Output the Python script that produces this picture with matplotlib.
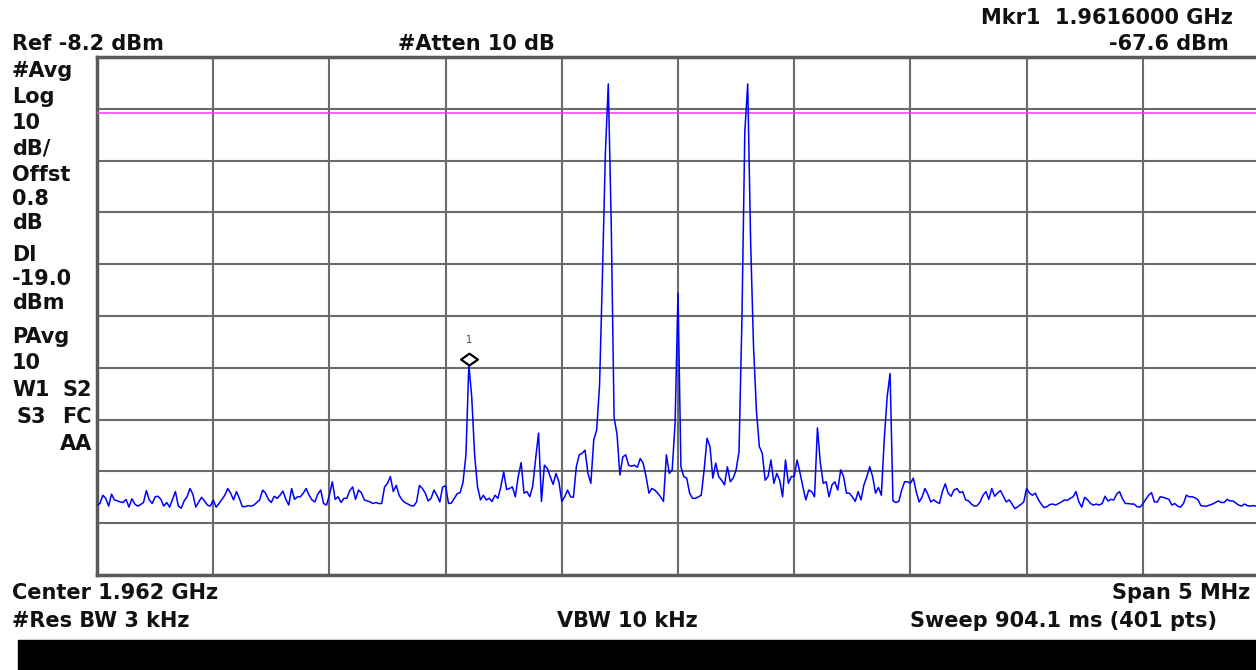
import numpy as np
import matplotlib
matplotlib.use("Agg")
import matplotlib.pyplot as plt
from matplotlib.path import Path
from matplotlib.patches import Rectangle
import matplotlib.transforms as mtransforms

# instrument settings
center_ghz = 1.962
span_mhz = 5.0
ref_dbm = -8.2
db_per_div = 10
display_line_dbm = -19.0
n_pts = 401
marker_idx = 128
marker_dbm = -67.6

# trace amplitude (dBm), 40 points per horizontal division
div1 = [-94.7, -94.4, -92.8, -93.4, -94.9, -92.6, -93.7, -93.9, -94.1, -94.2,
        -93.6, -95.1, -93.5, -94.5, -94.9, -94.6, -94.2, -91.9, -93.7, -94.4,
        -93.1, -93.0, -93.6, -94.9, -94.2, -95.1, -93.6, -92.1, -94.9, -95.3,
        -93.9, -93.1, -91.5, -92.6, -95.1, -94.1, -93.2, -93.9, -94.7, -94.9]
div2 = [-93.7, -95.1, -94.4, -93.6, -92.8, -91.5, -92.4, -93.7, -92.1, -93.4,
        -95.0, -95.0, -94.8, -94.9, -94.7, -94.2, -93.7, -91.8, -92.4, -93.6,
        -94.2, -93.0, -93.4, -92.8, -92.0, -93.6, -94.7, -91.5, -93.6, -93.1,
        -93.1, -92.4, -91.5, -92.8, -93.7, -94.1, -92.6, -91.8, -94.4, -94.7]
div3 = [-92.8, -90.2, -93.6, -93.1, -94.2, -93.4, -93.4, -91.9, -91.2, -93.6,
        -91.8, -92.3, -93.7, -93.9, -94.1, -94.4, -94.2, -94.4, -94.4, -91.2,
        -90.5, -89.2, -92.1, -90.9, -92.8, -93.7, -94.2, -94.5, -94.8, -94.9,
        -94.1, -90.9, -91.5, -92.4, -93.9, -93.4, -91.8, -92.8, -94.1, -91.2]
div4 = [-91.0, -94.4, -94.3, -93.4, -92.5, -92.3, -90.3, -85.0, -67.6, -73.8,
        -85.2, -91.2, -93.7, -92.8, -93.7, -93.4, -94.0, -92.8, -93.4, -91.2,
        -88.3, -91.7, -91.5, -91.2, -93.1, -89.2, -86.5, -92.4, -92.1, -93.1,
        -91.0, -85.7, -80.8, -94.0, -87.0, -87.6, -89.2, -90.7, -88.6, -90.2]
div5 = [-94.0, -93.1, -91.8, -93.1, -93.2, -87.3, -85.0, -84.7, -84.1, -88.6,
        -90.5, -82.1, -80.2, -71.5, -50.0, -26.8, -13.4, -40.0, -77.8, -81.0,
        -88.9, -85.4, -85.0, -87.0, -87.2, -87.0, -87.4, -85.7, -86.6, -89.2,
        -92.4, -91.5, -91.8, -92.4, -93.1, -94.0, -85.0, -88.6, -87.9, -78.9]
div6 = [-53.8, -87.3, -89.2, -89.5, -92.4, -93.4, -93.4, -93.1, -92.8, -87.9,
        -81.8, -83.4, -89.5, -86.6, -89.2, -89.9, -90.8, -87.3, -90.2, -89.5,
        -87.9, -84.4, -59.0, -22.6, -13.4, -43.9, -64.1, -76.5, -83.4, -84.7,
        -89.9, -89.2, -86.0, -90.5, -88.6, -89.9, -93.1, -86.0, -90.5, -89.2]
div7 = [-89.2, -86.0, -88.5, -91.2, -93.7, -91.8, -92.1, -93.1, -79.8, -86.6,
        -90.5, -90.2, -93.1, -90.8, -90.2, -91.8, -87.9, -89.2, -92.4, -92.4,
        -93.1, -94.0, -92.1, -93.7, -90.8, -89.2, -87.3, -89.2, -92.4, -91.3,
        -92.8, -82.0, -73.8, -69.3, -93.9, -94.2, -94.0, -91.8, -90.2, -90.2]
div8 = [-90.5, -89.5, -92.1, -94.1, -93.2, -91.5, -92.6, -94.1, -93.7, -94.1,
        -94.4, -92.1, -90.6, -92.4, -93.0, -91.8, -91.5, -92.3, -92.1, -93.7,
        -93.9, -94.5, -94.9, -94.8, -94.1, -92.8, -92.1, -93.6, -91.5, -93.0,
        -92.4, -91.9, -93.0, -94.1, -93.7, -94.5, -95.4, -95.0, -94.6, -94.1]
div9 = [-91.5, -92.4, -92.8, -92.4, -93.6, -94.5, -95.2, -95.0, -94.6, -94.5,
        -94.7, -94.4, -94.1, -93.7, -93.8, -93.4, -93.1, -92.1, -94.1, -95.1,
        -93.2, -93.7, -94.4, -94.7, -94.5, -94.7, -94.4, -93.0, -93.9, -93.6,
        -93.7, -92.6, -92.1, -93.5, -94.4, -94.4, -94.5, -94.5, -95.0, -95.1]
div10 = [-94.5, -93.6, -92.8, -92.3, -94.1, -94.1, -93.1, -93.2, -93.4, -93.6,
         -94.7, -94.4, -94.9, -95.1, -94.4, -92.8, -93.1, -93.1, -93.3, -93.7,
         -94.8, -94.9, -94.9, -94.7, -94.5, -94.2, -93.9, -94.2, -94.2, -93.6,
         -93.9, -93.9, -94.3, -94.7, -94.9, -94.5, -94.8, -94.9, -94.8, -94.9,
         -94.7]

trace = np.array(div1 + div2 + div3 + div4 + div5 + div6 + div7 + div8 + div9 + div10)

f_start = center_ghz - span_mhz / 2000
f_stop = center_ghz + span_mhz / 2000
freq = np.linspace(f_start, f_stop, n_pts)

W, H = 1256, 670
fig = plt.figure(figsize=(W / 100, H / 100), dpi=100)
fig.patch.set_facecolor("white")

# graticule area in pixels
x0, x1, y0, y1 = 97, 1259, 57, 575
ax = fig.add_axes([x0 / W, 1 - y1 / H, (x1 - x0) / W, (y1 - y0) / H])
ax.set_xlim(f_start, f_stop)
ax.set_ylim(ref_dbm - 10 * db_per_div, ref_dbm)
ax.set_xticks(np.linspace(f_start, f_stop, 11))
ax.set_yticks(np.linspace(ref_dbm - 10 * db_per_div, ref_dbm, 11))
ax.tick_params(length=0, labelbottom=False, labelleft=False)
ax.grid(True, color="#6b6b6b", lw=1.5)
ax.set_axisbelow(True)
for s in ax.spines.values():
    s.set_color("#5a5a5a")
    s.set_linewidth(2.5)

ax.axhline(display_line_dbm, color="#ff33ff", lw=1.1, zorder=3)
ax.plot(freq, trace, color="#0000ff", lw=1.1, zorder=4)

# marker diamond sits on top of the marked point
diamond = Path([(0, 0), (1, 0.7), (0, 1.4), (-1, 0.7), (0, 0)],
               [Path.MOVETO, Path.LINETO, Path.LINETO, Path.LINETO, Path.CLOSEPOLY])
ax.plot(freq[marker_idx], marker_dbm, marker=diamond, ms=17, mfc="white",
        mec="black", mew=1.6, zorder=5, clip_on=False)
lbl_off = mtransforms.offset_copy(ax.transData, fig=fig, x=0, y=20, units="dots")
ax.text(freq[marker_idx], marker_dbm, "1", transform=lbl_off, ha="center",
        va="bottom", fontsize=7, color="#444444")


def label(x, y, s, ha="left"):
    fig.text(x / W, 1 - y / H, s, ha=ha, va="baseline", fontsize=15,
             fontweight="bold", family="DejaVu Sans", color="#111111")


label(1233, 24, "Mkr1  1.9616000 GHz", ha="right")
label(12, 50, "Ref -8.2 dBm")
label(398, 50, "#Atten 10 dB")
label(1229, 50, "-67.6 dBm", ha="right")

side = [("#Avg", 77), ("Log", 103), ("10", 129), ("dB/", 155), ("Offst", 181),
        ("0.8", 205), ("dB", 229), ("Dl", 261), ("-19.0", 285), ("dBm", 309),
        ("PAvg", 343), ("10", 369), ("W1", 396), ("S3", 423)]
for s, y in side:
    label(12 if s != "S3" else 16, y, s)
label(92, 396, "S2", ha="right")
label(92, 423, "FC", ha="right")
label(92, 450, "AA", ha="right")

label(12, 599, "Center 1.962 GHz")
label(1250, 599, "Span 5 MHz", ha="right")
label(12, 627, "#Res BW 3 kHz")
label(557, 627, "VBW 10 kHz")
label(1217, 627, "Sweep 904.1 ms (401 pts)", ha="right")

fig.patches.append(Rectangle((18 / W, 0), 1 - 18 / W, (H - 640) / H,
                             transform=fig.transFigure, color="black"))

fig.savefig("out.png", dpi=100)
